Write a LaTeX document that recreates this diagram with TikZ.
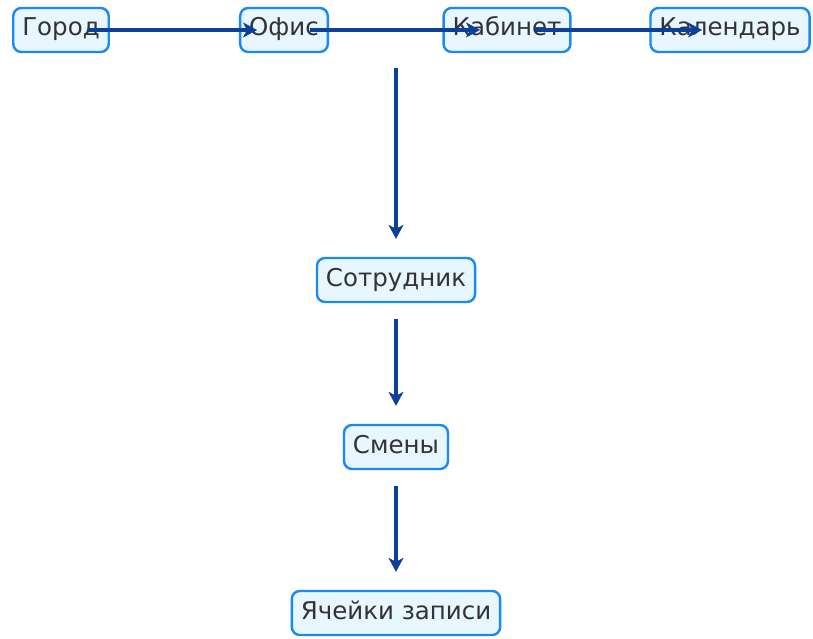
\documentclass[tikz,border=0pt]{standalone}
\usepackage{fontspec}
\setmainfont{DejaVu Sans}
\usetikzlibrary{arrows.meta, positioning, calc}

\definecolor{boxline}{HTML}{1A88F5}
\definecolor{boxfill}{HTML}{E8F6FF}
\definecolor{linkcol}{HTML}{0B3F99}
\definecolor{txtcol}{HTML}{333333}

\tikzset{
  entity/.style={draw=boxline, fill=boxfill, line width=2.4pt, rounded corners=8pt,
    minimum height=44pt, inner xsep=9pt, text height=17pt, text depth=5pt,
    text=txtcol, font=\fontsize{24.5}{28}\selectfont},
  link/.style={draw=linkcol, line width=3.2pt, -{Stealth[length=14pt,width=15pt,inset=4pt,line width=0.5pt]}}
}

\begin{document}
\begin{tikzpicture}[x=1pt,y=-1pt]
\useasboundingbox (0,0) rectangle (813,639);
\foreach \n / \t / \x in {gorod/Город/61, ofis/Офис/284, kabinet/Кабинет/507, kalendar/Календарь/730} {
\node[entity] (\n) at (\x,30) {\t};
}
\node[entity] (sotr) at (396,280) {Сотрудник};
\node[entity] (smeny) at (396,447) {Смены};
\node[entity] (yach) at (396,613) {Ячейки записи};
\coordinate (top) at (396,68);

\draw[link] ([xshift=27pt]gorod.center) -- ([xshift=-27pt]ofis.center);
\draw[link] ([xshift=26pt]ofis.center) -- ([xshift=-27pt]kabinet.center);
\draw[link] ([xshift=28pt]kabinet.center) -- ([xshift=-28pt]kalendar.center);
\draw[link, shorten >=18pt] (top) -- (sotr.north);
\draw[link, shorten <=16pt, shorten >=18pt] (sotr.south) -- (smeny.north);
\draw[link, shorten <=16pt, shorten >=18pt] (smeny.south) -- (yach.north);
\end{tikzpicture}
\end{document}
